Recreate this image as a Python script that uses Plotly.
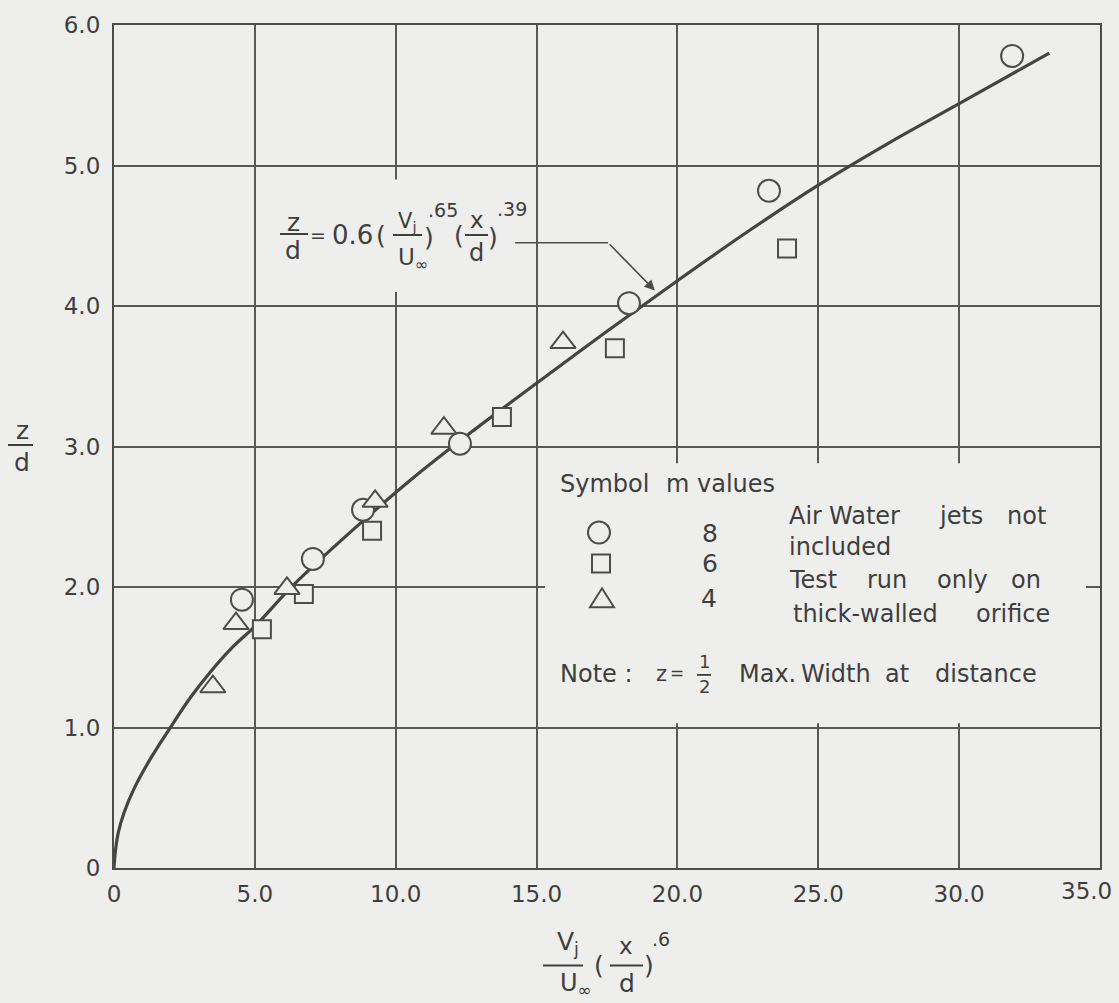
import plotly.graph_objects as go

# ---------------- data ----------------
x_ticks = [0, 5, 10, 15, 20, 25, 30, 35]
x_tick_labels = ["0", "5.0", "10.0", "15.0", "20.0", "25.0", "30.0", "35.0"]
y_ticks = [0, 1, 2, 3, 4, 5, 6]
y_tick_labels = ["0", "1.0", "2.0", "3.0", "4.0", "5.0", "6.0"]

# fitted curve  z/d = 0.6 (Vj/U)^.65 (x/d)^.39
curve_x = [0, 0.05, 0.15, 0.35, 0.7, 1.3, 2.0, 2.7, 3.4, 4.2, 5.0, 6.4, 8.5, 10.7, 12.8,
           15.0, 17.5, 20.0, 22.5, 25.0, 27.5, 30.0, 33.2]
curve_y = [0, 0.12, 0.25, 0.39, 0.56, 0.78, 1.0, 1.21, 1.39, 1.57, 1.72, 2.02, 2.41, 2.79, 3.12,
           3.45, 3.82, 4.18, 4.53, 4.86, 5.16, 5.44, 5.80]

# m = 8 (circles)
m8_x = [4.54, 7.06, 8.84, 12.28, 18.28, 23.25, 31.88]
m8_y = [1.91, 2.20, 2.55, 3.02, 4.02, 4.82, 5.78]
# m = 6 (squares)
m6_x = [5.25, 6.74, 9.16, 13.77, 17.78, 23.89]
m6_y = [1.70, 1.95, 2.40, 3.21, 3.70, 4.41]
# m = 4 (triangles)
m4_x = [3.51, 4.33, 6.14, 9.27, 11.71, 15.94]
m4_y = [1.29, 1.74, 1.99, 2.61, 3.13, 3.74]

# ---------------- styling ----------------
BG = "#eeeeec"
INK = "#3e3e3e"
LINE = "#4c4c4c"
FONT = "DejaVu Sans"

W, H = 1119, 1003
L, R, T, B = 114, 19, 21, 135
PW, PH = W - L - R, H - T - B
Y0 = H - B


def px2paper(px, py):
    return (px - L) / PW, (Y0 - py) / PH


def txt(text, px, py, size=24, xanchor="center", yanchor="middle"):
    x, y = px2paper(px, py)
    return dict(text=text, x=x, y=y, xref="paper", yref="paper", showarrow=False,
                xanchor=xanchor, yanchor=yanchor,
                font=dict(size=size, color=INK, family=FONT))


def bar(px0, px1, py, width=2):
    x0, y = px2paper(px0, py)
    x1, _ = px2paper(px1, py)
    return dict(type="line", xref="paper", yref="paper", x0=x0, x1=x1, y0=y, y1=y,
                line=dict(color=INK, width=width))


fig = go.Figure()

fig.add_trace(go.Scatter(x=curve_x, y=curve_y, mode="lines",
                         line=dict(color="#444444", width=3.2, shape="spline", smoothing=1.0),
                         hoverinfo="skip"))

mk_line = dict(color=LINE, width=2)
fig.add_trace(go.Scatter(x=m8_x, y=m8_y, mode="markers", name="8",
                         marker=dict(symbol="circle", size=22, color=BG, line=mk_line)))
fig.add_trace(go.Scatter(x=m6_x, y=m6_y, mode="markers", name="6",
                         marker=dict(symbol="square", size=18, color=BG, line=mk_line)))
fig.add_trace(go.Scatter(x=m4_x, y=m4_y, mode="markers", name="4",
                         marker=dict(symbol="triangle-up", size=22, color=BG, line=mk_line)))

axis_common = dict(showgrid=True, gridcolor="#585858", gridwidth=1.5, zeroline=False,
                   showline=True, linecolor=LINE, linewidth=2.2, mirror=True,
                   ticks="", tickfont=dict(size=23, color=INK, family=FONT))

# the last x label would run past the page edge: it is drawn as an annotation below
x_axis_labels = x_tick_labels[:-1] + [""]
fig.update_xaxes(range=[0, 35], tickvals=x_ticks, ticktext=x_axis_labels,
                 ticklabelstandoff=4, **axis_common)
fig.update_yaxes(range=[0, 6], tickvals=y_ticks, ticktext=y_tick_labels,
                 ticklabelstandoff=7, **axis_common)

shapes = []
# masks that interrupt the grid behind the lettering (between grid and traces)
shapes.append(dict(type="rect", xref="x", yref="y", x0=15.3, x1=34.5, y0=1.03, y1=2.88,
                   fillcolor=BG, line=dict(width=0), layer="between"))
shapes.append(dict(type="rect", xref="x", yref="y", x0=9.0, x1=14.5, y0=4.1, y1=4.9,
                   fillcolor=BG, line=dict(width=0), layer="between"))

# leader line from the equation to the curve
shapes.append(dict(type="line", xref="x", yref="y", x0=14.24, x1=17.54, y0=4.45, y1=4.45,
                   line=dict(color=LINE, width=1.6)))

# legend key symbols
def key(kind, px, py, path=None):
    x, y = px2paper(px, py)
    d = dict(xref="paper", yref="paper", xsizemode="pixel", ysizemode="pixel",
             xanchor=x, yanchor=y, line=dict(color=LINE, width=2), fillcolor="rgba(0,0,0,0)")
    if kind == "circle":
        d.update(type="circle", x0=-11, x1=11, y0=-11, y1=11)
    elif kind == "square":
        d.update(type="rect", x0=-9, x1=9, y0=-9, y1=9)
    else:
        d.update(type="path", path=path)
    return d

shapes.append(key("circle", 599, 531))
shapes.append(key("square", 601, 562))
shapes.append(key("tri", 602, 597, path="M-12,-9 L12,-9 L0,10 Z"))

# fraction bars
shapes += [
    bar(280, 308, 231),   # z/d in equation
    bar(393, 422, 232),   # Vj/Uoo in equation
    bar(465, 488, 232),   # x/d in equation
    bar(8, 33, 443),      # y axis title
    bar(543, 583, 966),   # x title Vj/Uoo
    bar(610, 643, 966),   # x title x/d
    bar(697, 711, 674, width=1.8),  # 1/2 in note
]

ann = []
# last x tick label
ann.append(dict(text=x_tick_labels[-1], x=x_ticks[-1], y=0, xref="x", yref="y",
                xshift=-14, yshift=-23, showarrow=False, xanchor="center", yanchor="middle",
                font=dict(size=23, color=INK, family=FONT)))
# equation
ann += [
    txt("z", 293, 219, 25), txt("d", 293, 248, 25),
    txt("=", 318, 232, 19),
    txt("0.6", 352, 232, 26),
    txt("(", 381, 233, 25),
    txt("V<sub>j</sub>", 407, 219, 21),
    txt("U<sub>∞</sub>", 413, 256, 23),
    txt(")", 429, 235, 25),
    txt(".65", 443, 207, 19),
    txt("(", 459, 233, 25),
    txt("x", 477, 217, 23), txt("d", 476, 250, 24),
    txt(")", 493, 235, 25),
    txt(".39", 512, 206, 19),
]
# y axis title
ann += [txt("z", 22, 428, 25), txt("d", 22, 461, 25)]
# x axis title
ann += [
    txt("V<sub>j</sub>", 568, 943, 25),
    txt("U<sub>∞</sub>", 576, 985, 24),
    txt("(", 599, 966, 25),
    txt("x", 626, 946, 23), txt("d", 627, 984, 25),
    txt(")", 649, 966, 25),
    txt(".6", 661, 939, 19),
]
# legend block
words = [
    ("Symbol", 558, 482), ("m values", 664, 482),
    ("Air", 787, 514), ("Water", 827, 514), ("jets", 937, 514), ("not", 1005, 514),
    ("included", 787, 545),
    ("Test", 787, 579), ("run", 865, 579), ("only", 935, 579), ("on", 1009, 579),
    ("thick-walled", 791, 613), ("orifice", 974, 613),
    ("Note :", 558, 673), ("Max.", 737, 673), ("Width", 799, 673), ("at", 883, 673),
    ("distance", 933, 673),
]
for w_, px, py in words:
    ann.append(txt(w_, px, py, 24, xanchor="left"))
ann += [txt("8", 710, 532, 25), txt("6", 710, 562, 25), txt("4", 709, 597, 25)]
ann += [txt("z", 661, 673, 21), txt("=", 677, 672, 17),
        txt("1", 704, 661, 18), txt("2", 704, 686, 18)]

# arrow of the leader line
ann.append(dict(x=19.2, y=4.11, ax=17.54, ay=4.45, xref="x", yref="y", axref="x", ayref="y",
                text="", showarrow=True, arrowhead=2, arrowsize=1.3, arrowwidth=1.6,
                arrowcolor=LINE, standoff=0))

fig.update_layout(width=W, height=H, autosize=False,
                  margin=dict(l=L, r=R, t=T, b=B, pad=0),
                  paper_bgcolor=BG, plot_bgcolor=BG, showlegend=False,
                  font=dict(family=FONT, color=INK),
                  shapes=shapes, annotations=ann)

fig.write_html("out.html")
